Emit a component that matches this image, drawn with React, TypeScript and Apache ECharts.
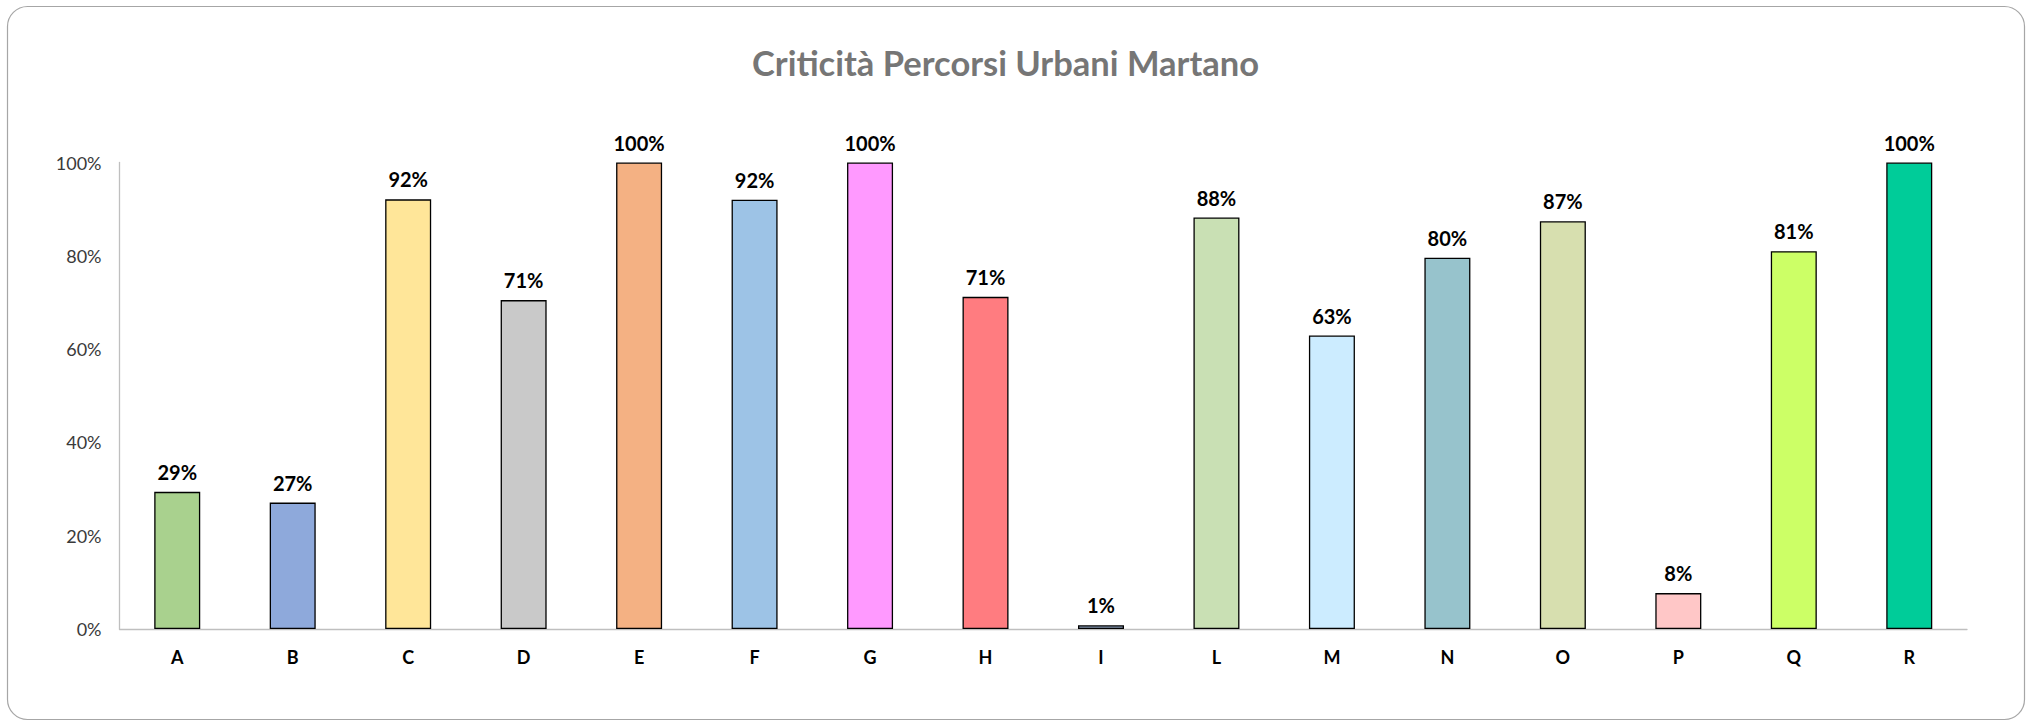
import React, { useEffect, useRef } from "react";
import * as echarts from "echarts";

const categories = ["A", "B", "C", "D", "E", "F", "G", "H", "I", "L", "M", "N", "O", "P", "Q", "R"];
const values = [0.294, 0.271, 0.921, 0.705, 1.0, 0.92, 1.0, 0.712, 0.008, 0.882, 0.629, 0.796, 0.874, 0.077, 0.81, 1.0];
const barColors = [
  "#A9D18E", "#8EA9DB", "#FFE699", "#C9C9C9", "#F4B183", "#9DC3E6", "#FF99FF", "#FF7C80",
  "#8497B0", "#C9E0B4", "#CCECFF", "#97C3CC", "#D7DFAF", "#FFC7C7", "#CCFF66", "#00CC99",
];
const yTicks = [0, 0.2, 0.4, 0.6, 0.8, 1.0];
const title = "Criticità Percorsi Urbani Martano";

export default function App() {
  const ref = useRef<HTMLDivElement>(null);
  useEffect(() => {
    document.body.style.margin = "0";
    const chart = echarts.init(ref.current!, null, { renderer: "svg" });
    const font = "Lato, 'Open Sans', sans-serif";
    chart.setOption({
      animation: false,
      backgroundColor: "#ffffff",
      title: {
        text: title,
        left: 747,
        top: 40,
        textStyle: { fontFamily: font, fontSize: 34.5, fontWeight: "bold", color: "#767676" },
      },
      graphic: [
        {
          type: "rect",
          shape: { x: 7.5, y: 6.5, width: 2017, height: 713, r: 20 },
          style: { fill: "none", stroke: "#A6A6A6", lineWidth: 1.2 },
          silent: true,
        },
      ],
      grid: { left: 119.5, right: 66, top: 162.5, bottom: 93, containLabel: false },
      xAxis: {
        type: "category",
        data: categories,
        axisLine: { show: true, lineStyle: { color: "#BFBFBF", width: 1.3 } },
        axisTick: { show: false },
        axisLabel: { fontFamily: font, fontSize: 18, fontWeight: "bold", color: "#000000", margin: 19 },
      },
      yAxis: {
        type: "value",
        min: yTicks[0],
        max: yTicks[yTicks.length - 1],
        interval: 0.2,
        axisLine: { show: true, lineStyle: { color: "#BFBFBF", width: 1.3 } },
        axisTick: { show: false },
        splitLine: { show: false },
        axisLabel: {
          fontFamily: font,
          fontSize: 18,
          color: "#3A3A3A",
          margin: 18,
          formatter: (v: number) => `${Math.round(v * 100)}%`,
        },
      },
      series: [
        {
          type: "bar",
          barWidth: 46,
          data: values.map((v, i) => ({
            value: v,
            itemStyle: { color: barColors[i], borderColor: "#000000", borderWidth: 1.3 },
          })),
          label: {
            show: true,
            position: "top",
            distance: 10,
            fontFamily: font,
            fontSize: 20,
            fontWeight: "bold",
            color: "#000000",
            formatter: (p: any) => `${Math.round(p.value * 100)}%`,
          },
        },
      ],
    });
    return () => chart.dispose();
  }, []);
  return <div ref={ref} style={{ width: 2033, height: 722 }} />;
}
